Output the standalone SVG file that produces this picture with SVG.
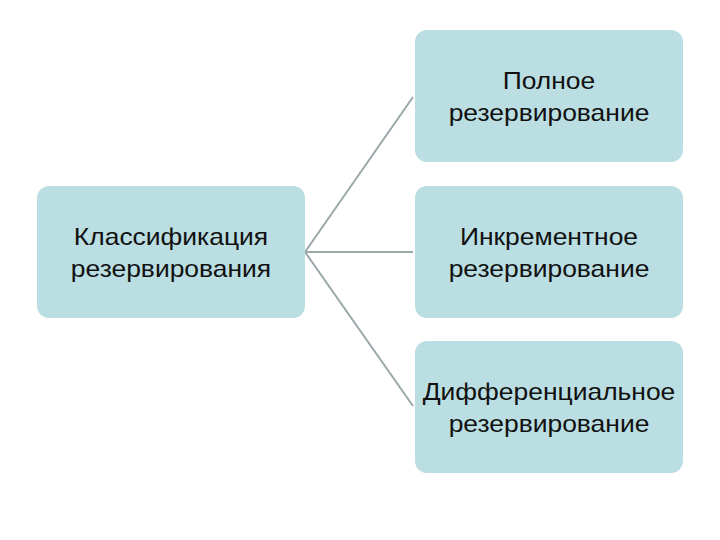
<svg xmlns="http://www.w3.org/2000/svg" width="720" height="540" viewBox="0 0 720 540">
<style>
.box{fill:#BADEE2;}
.t{font-family:"Liberation Sans",Arial,sans-serif;font-size:23px;fill:#111;text-anchor:middle;}
.c{stroke:#9AA8AA;stroke-width:2;fill:none;}
</style>
<rect width="720" height="540" fill="#fff"/>
<g id="connectors">
<line class="c" x1="305" y1="252" x2="413" y2="97"/>
<line class="c" x1="305" y1="252" x2="413" y2="252"/>
<line class="c" x1="305" y1="252" x2="413" y2="406"/>
</g>
<g id="root">
<rect class="box" x="37" y="186" width="268" height="132" rx="12"/>
<g transform="translate(171,0) scale(1.15,1)">
<text class="t" x="0" y="245">Классификация</text>
<text class="t" x="0" y="277">резервирования</text>
</g>
</g>
<g id="full">
<rect class="box" x="415" y="30" width="268" height="132" rx="12"/>
<g transform="translate(549,0) scale(1.15,1)">
<text class="t" x="0" y="89">Полное</text>
<text class="t" x="0" y="121">резервирование</text>
</g>
</g>
<g id="incremental">
<rect class="box" x="415" y="186" width="268" height="132" rx="12"/>
<g transform="translate(549,0) scale(1.15,1)">
<text class="t" x="0" y="245">Инкрементное</text>
<text class="t" x="0" y="277">резервирование</text>
</g>
</g>
<g id="differential">
<rect class="box" x="415" y="341" width="268" height="132" rx="12"/>
<g transform="translate(549,0) scale(1.15,1)">
<text class="t" x="0" y="400">Дифференциальное</text>
<text class="t" x="0" y="432">резервирование</text>
</g>
</g>
</svg>
